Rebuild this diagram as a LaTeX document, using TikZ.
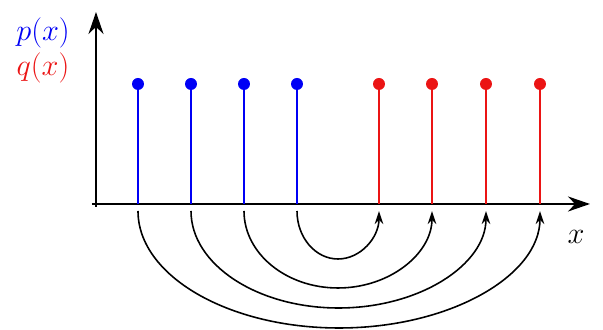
\documentclass[tikz,border=0pt]{standalone}
\usepackage{amsmath}
\usetikzlibrary{arrows.meta}
\definecolor{pblue}{RGB}{0,0,245}
\definecolor{qred}{RGB}{235,20,20}
\tikzset{
    axisline/.style={line width=1.5pt, -{Stealth[length=4.4mm, width=3mm]}},
    stem/.style={line width=1.2pt},
    dot/.style={circle, inner sep=0pt, minimum size=0.24cm},
    hop/.style={line width=0.9pt, -{Stealth[length=2.6mm, width=1.7mm]}},
    lbl/.style={font=\fontsize{18}{21}\selectfont, inner sep=0pt}
}

\begin{document}
\begin{tikzpicture}[x=0.02cm, y=0.02cm]
    \useasboundingbox (-96,-126) rectangle (507,204);
    % axes
    \coordinate (xend) at (494,0);
    \coordinate (yend) at (0,192);
    \draw[axisline] (-4,0) -- (xend);
    \draw[axisline] (0,-3) -- (yend);
    \node[lbl] (xlabel) at (480,-33) {$x$};
    \node[lbl, text=pblue] (plabel) at (-53,171) {$p(x)$};
    \node[lbl, text=qred] (qlabel) at (-53,136) {$q(x)$};
    % stems of p(x)
    \foreach \i/\x in {1/42, 2/95, 3/148, 4/201} {
        \node[dot, fill=pblue] (p\i) at (\x,120) {};
        \coordinate (pb\i) at (\x,-7);
        \draw[stem, pblue] (\x,0) -- (p\i.center);
    }
    % stems of q(x)
    \foreach \i/\x in {1/283, 2/336, 3/390, 4/444} {
        \node[dot, fill=qred] (q\i) at (\x,120) {};
        \coordinate (qb\i) at (\x,-7);
        \draw[stem, qred] (\x,0) -- (q\i.center);
    }
    % lowest points of the moves
    \coordinate (m1) at (242,-55);
    \coordinate (m2) at (242,-84);
    \coordinate (m3) at (242.5,-104);
    \coordinate (m4) at (243,-124);
    % moves from p to q
    \draw[hop] (pb4) .. controls +(0,-26.5) and +(-22.6,0) .. (m1)
                     .. controls +(22.6,0) and +(0,-26.5) .. (qb1);
    \draw[hop] (pb3) .. controls +(0,-42.5) and +(-51.9,0) .. (m2)
                     .. controls +(51.9,0) and +(0,-42.5) .. (qb2);
    \draw[hop] (pb2) .. controls +(0,-53.5) and +(-81.4,0) .. (m3)
                     .. controls +(81.4,0) and +(0,-53.5) .. (qb3);
    \draw[hop] (pb1) .. controls +(0,-64.6) and +(-111,0) .. (m4)
                     .. controls +(111,0) and +(0,-64.6) .. (qb4);
\end{tikzpicture}
\end{document}
